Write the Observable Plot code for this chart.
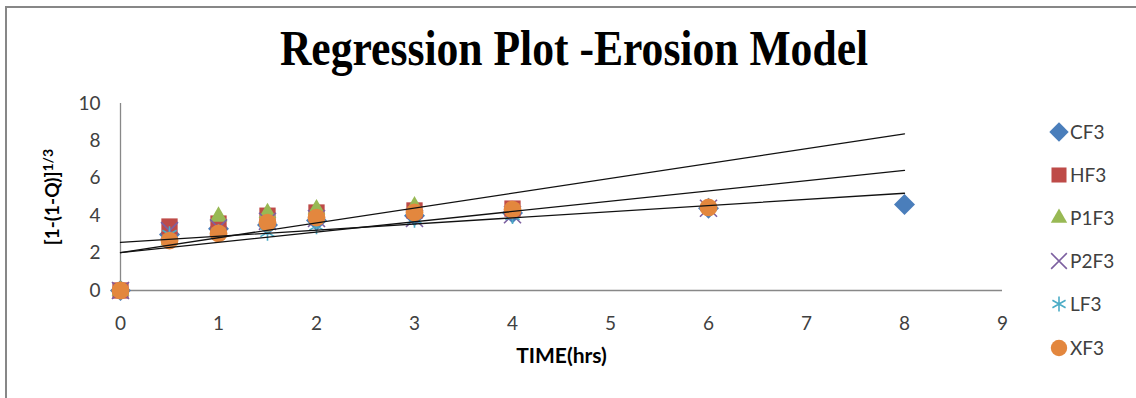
<!DOCTYPE html>
<html>
<head>
<meta charset="utf-8">
<script src="https://cdn.jsdelivr.net/npm/d3@7"></script>
<script src="https://cdn.jsdelivr.net/npm/@observablehq/plot@0.6"></script>
<style>
  html, body { margin: 0; padding: 0; background: #fff; overflow: hidden; width: 1136px; height: 398px; }
  #wrap { position: relative; width: 1136px; height: 398px; }
  #frame { position: absolute; left: 5px; top: 6px; width: 1150px; height: 420px; border: 2px solid #878787; box-sizing: border-box; }
  #title { position: absolute; left: 0; top: 0; width: 1136px; height: 90px; text-align: center; }
  #title span { display: inline-block; font-family: "Liberation Serif", serif; font-weight: bold; font-size: 51px; line-height: 51px; margin-top: 23px; margin-left: 12px; transform: scaleX(0.855); transform-origin: center; color: #000; white-space: nowrap; }
  #chart { position: absolute; left: 0; top: 90px; }
  #legend { position: absolute; left: 1048px; top: 0; font-family: Lato, sans-serif; font-size: 19px; color: #404040; }
  .item { position: absolute; left: 0; white-space: nowrap; display: flex; align-items: center; }
  .item svg { width: 22px; height: 22px; margin-right: 0px; }
</style>
</head>
<body>
<div id="wrap">
  <div id="frame"></div>
  <div id="title"><span>Regression Plot -Erosion Model</span></div>
  <div id="chart"></div>
  <div id="legend"></div>
</div>
<script>
// ---- data ----
const times = [0, 0.5, 1, 1.5, 2, 3, 4, 6, 8];
const CF3  = [0, 3.0, 3.3, 3.5, 3.75, 4.0, 4.15, 4.4, 4.6];
const HF3  = [0, 3.42, 3.58, 4.0, 4.17, 4.28, 4.38, null, null];
const P1F3 = [0, 2.7, 3.95, 4.15, 4.35, 4.5, null, null, null];
const P2F3 = [0, 3.2, 3.35, 3.7, 3.85, 3.85, 4.05, 4.4, null];
const LF3  = [0, 3.0, 3.1, 3.1, 3.45, 3.8, 4.0, 4.45, null];
const XF3  = [0, 2.67, 3.05, 3.63, 3.9, 4.17, 4.33, 4.44, null];
const seriesNames = ["CF3", "HF3", "P1F3", "P2F3", "LF3", "XF3"];
const seriesValues = [CF3, HF3, P1F3, P2F3, LF3, XF3];

// trendlines (end points)
const trendX = [0, 8];
const trendA = [2.03, 8.38];
const trendB = [2.03, 6.42];
const trendC = [2.57, 5.20];
const trends = [trendA, trendB, trendC];

const xTicks = [0, 1, 2, 3, 4, 5, 6, 7, 8, 9];
const yTicks = [0, 2, 4, 6, 8, 10];
const xLabel = "TIME(hrs)";
const yLabelMain = "[1-(1-Q)]";
const yLabelSup = "1/3";

// ---- styles ----
const diamondSym = { draw(ctx, size) { const h = Math.sqrt(size / 2); ctx.moveTo(0, -h); ctx.lineTo(h, 0); ctx.lineTo(0, h); ctx.lineTo(-h, 0); ctx.closePath(); } };
const styles = {
  CF3:  { symbol: diamondSym, color: "#4A7EBB", r: 8.4, filled: true },
  HF3:  { symbol: "square", color: "#BE4B48", r: 9.2, filled: true },
  P1F3: { symbol: "triangle", color: "#98B954", r: 6.6, filled: true },
  P2F3: { symbol: "times", color: "#7D60A0", r: 7.8, filled: false },
  LF3:  { symbol: "asterisk", color: "#4BACC6", r: 7.8, filled: false },
  XF3:  { symbol: "circle", color: "#E3873E", r: 8.9, filled: true }
};

const rows = [];
seriesNames.forEach((name, si) => {
  seriesValues[si].forEach((v, i) => { if (v != null) rows.push({ series: name, t: times[i], v }); });
});
const trendRows = [];
trends.forEach((tr, k) => tr.forEach((v, i) => trendRows.push({ k, t: trendX[i], v })));

const dotMarks = seriesNames.map(name => {
  const s = styles[name];
  const data = rows.filter(d => d.series === name);
  return s.filled
    ? Plot.dot(data, { x: "t", y: "v", symbol: () => s.symbol, r: s.r, fill: s.color, stroke: "none" })
    : Plot.dot(data, { x: "t", y: "v", symbol: () => s.symbol, r: s.r, fill: "none", stroke: s.color, strokeWidth: 1.6 });
});

const chart = Plot.plot({
  width: 1136,
  height: 308,
  marginLeft: 120,
  marginRight: 134,
  marginTop: 13,
  marginBottom: 108,
  style: { fontFamily: "Lato, sans-serif", fontSize: "19px", color: "#404040", background: "transparent" },
  x: { domain: [0, 9], axis: null },
  y: { domain: [0, 10], axis: null },
  symbol: { type: "identity" },
  marks: [
    Plot.axisX({ ticks: xTicks, tickSize: 0, tickPadding: 26, label: null, tickFormat: d => String(d) }),
    Plot.axisY({ ticks: yTicks, tickSize: 0, tickPadding: 20, label: null, tickFormat: d => String(d) }),
    Plot.ruleY([0], { stroke: "#888", strokeWidth: 1.3 }),
    Plot.ruleX([0], { stroke: "#888", strokeWidth: 1.3 }),
    ...dotMarks,
    Plot.line(trendRows, { x: "t", y: "v", z: "k", stroke: "#111", strokeWidth: 1.3 }),
    Plot.text([xLabel], { frameAnchor: "bottom", dy: 66, lineAnchor: "middle", fontWeight: "bold", fontSize: 21, fill: "#000" })
  ]
});
document.getElementById("chart").appendChild(chart);

// y label with superscript
const svg = d3.select(chart);
const yl = svg.append("text")
  .attr("transform", "translate(59,107) rotate(-90)")
  .attr("text-anchor", "middle")
  .attr("font-family", "Lato, sans-serif")
  .attr("font-weight", "bold")
  .attr("font-size", 19)
  .attr("fill", "#000");
yl.append("tspan").text(yLabelMain);
yl.append("tspan").attr("dy", "-0.45em").attr("font-size", 14).text(yLabelSup);

// legend
const legend = d3.select("#legend");
const legendTops = [120, 163, 206, 249, 292, 336];
seriesNames.forEach((name, i) => {
  const s = styles[name];
  const item = legend.append("div").attr("class", "item").style("top", legendTops[i] + "px");
  const sv = item.append("svg").attr("viewBox", "-11 -11 22 22");
  const map = { square: d3.symbolSquare, triangle: d3.symbolTriangle, times: d3.symbolTimes, asterisk: d3.symbolAsterisk, circle: d3.symbolCircle };
  const sym = typeof s.symbol === "string" ? map[s.symbol] : s.symbol;
  const path = d3.symbol(sym, Math.PI * s.r * s.r * 0.85)();
  sv.append("path").attr("d", path)
    .attr("fill", s.filled ? s.color : "none")
    .attr("stroke", s.filled ? "none" : s.color)
    .attr("stroke-width", s.filled ? 0 : 1.6);
  item.append("span").text(name);
});
</script>
</body>
</html>
